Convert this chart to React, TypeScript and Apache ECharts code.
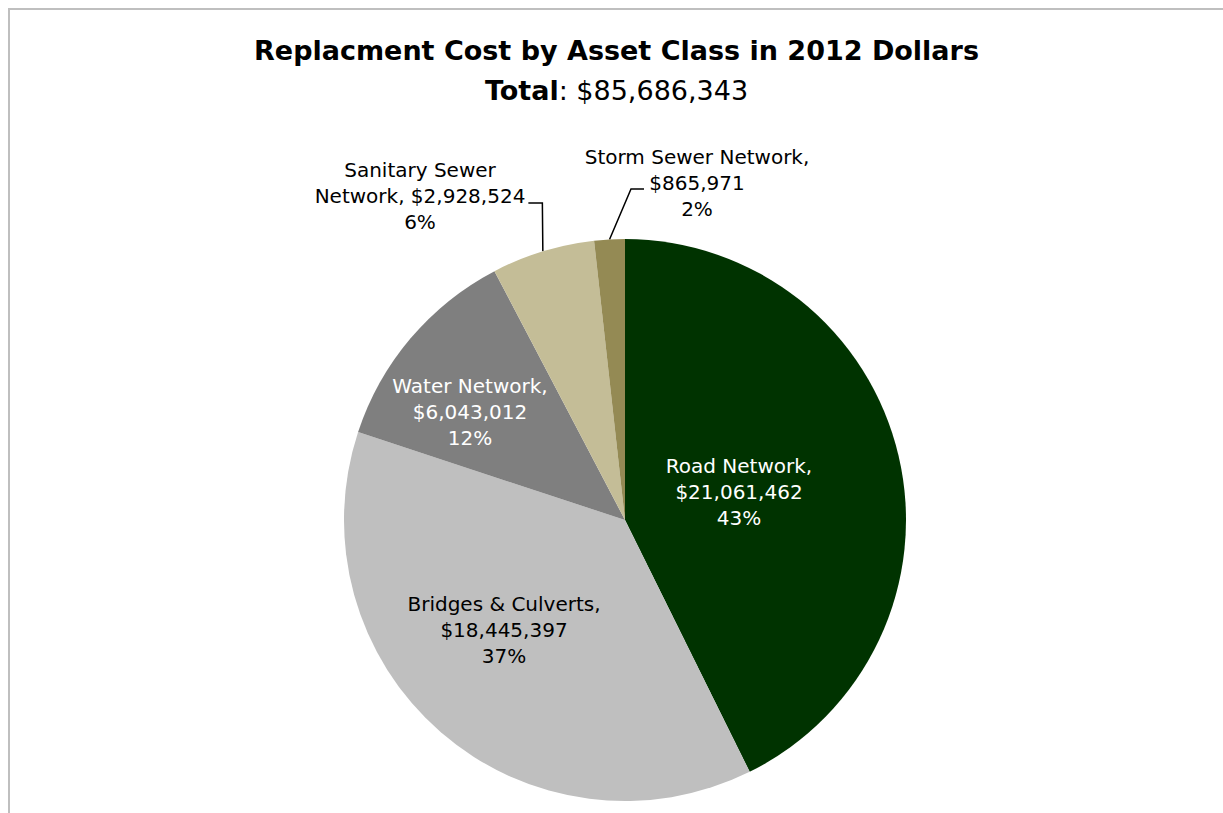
import React, { useEffect, useRef } from "react";
import * as echarts from "echarts";

const categories = [
  "Road Network",
  "Bridges & Culverts",
  "Water Network",
  "Sanitary Sewer Network",
  "Storm Sewer Network",
];
const values = [21061462, 18445397, 6043012, 2928524, 865971];
const labelPrefixes = [
  "Road Network,\n",
  "Bridges & Culverts,\n",
  "Water Network,\n",
  "Sanitary Sewer\nNetwork, ",
  "Storm Sewer Network,\n",
];
const colors = ["#003300", "#bfbfbf", "#7f7f7f", "#c4bd97", "#948a54"];
const labelColors = ["#ffffff", "#000000", "#ffffff", "#000000", "#000000"];
const labelInside = [true, true, true, false, false];
const titleMain = "Replacment Cost by Asset Class in 2012 Dollars";
const totalLabel = "Total";
const totalValue = "$85,686,343";

// label placement (chart pixel coords), not data
const labelPlacement = [
  { x: 729, y: 482 },
  { x: 494, y: 620 },
  { x: 460, y: 402 },
  { x: 410, y: 186 },
  { x: 687, y: 173 },
];

const FONT = "'DejaVu Sans', sans-serif";

export default function App() {
  const ref = useRef<HTMLDivElement>(null);
  useEffect(() => {
    if (!ref.current) return;
    const chart = echarts.init(ref.current, null, { renderer: "svg" });
    chart.setOption({
      animation: false,
      backgroundColor: "#ffffff",
      title: {
        left: "center",
        top: 15,
        text: `{b|${titleMain}}\n{b|${totalLabel}}{n|: ${totalValue}}`,
        textStyle: {
          rich: {
            b: { fontFamily: FONT, fontWeight: "bold", fontSize: 27, color: "#000", lineHeight: 40 },
            n: { fontFamily: FONT, fontWeight: "normal", fontSize: 27, color: "#000", lineHeight: 40 },
          },
        },
      },
      series: [
        {
          type: "pie",
          center: [615, 510],
          radius: 281,
          startAngle: 90,
          clockwise: true,
          avoidLabelOverlap: false,
          percentPrecision: 0,
          itemStyle: { borderWidth: 0 },
          emphasis: { disabled: true },
          label: {
            fontFamily: FONT,
            fontSize: 20,
            lineHeight: 26,
            align: "center",
            formatter: (p: any) =>
              `${labelPrefixes[p.dataIndex]}$${Number(p.value).toLocaleString("en-US")}\n${p.percent}%`,
          },
          labelLine: {
            show: true,
            length: 40,
            length2: 15,
            lineStyle: { color: "#000000", width: 1.5 },
          },
          labelLayout: (params: any) => {
            const i = params.dataIndex;
            const pos = labelPlacement[i];
            const out: any = { x: pos.x, y: pos.y, align: "center", verticalAlign: "middle" };
            if (!labelInside[i] && params.labelLinePoints) {
              const p0 = params.labelLinePoints[0];
              if (i === 3) {
                const endX = pos.x + params.labelRect.width / 2 + 3;
                const yy = pos.y + 7;
                out.labelLinePoints = [p0, [endX + 14, yy], [endX, yy]];
              } else {
                const endX = pos.x - 53;
                const yy = pos.y + 6;
                out.labelLinePoints = [p0, [endX - 13, yy], [endX, yy]];
              }
            }
            return out;
          },
          data: categories.map((name, i) => ({
            name,
            value: values[i],
            itemStyle: { color: colors[i] },
            label: {
              position: labelInside[i] ? "inside" : "outside",
              color: labelColors[i],
            },
            labelLine: { show: !labelInside[i] },
          })),
        },
      ],
    });
    return () => chart.dispose();
  }, []);

  return (
    <div
      style={{
        position: "fixed",
        left: 0,
        top: 0,
        width: 1223,
        height: 813,
        overflow: "hidden",
        background: "#ffffff",
      }}
    >
      <div
        style={{
          position: "absolute",
          left: 8,
          top: 8,
          width: 1215,
          height: 805,
          borderTop: "2px solid #bfbfbf",
          borderLeft: "2px solid #bfbfbf",
          boxSizing: "border-box",
        }}
      >
        <div ref={ref} style={{ width: 1213, height: 803 }} />
      </div>
    </div>
  );
}
